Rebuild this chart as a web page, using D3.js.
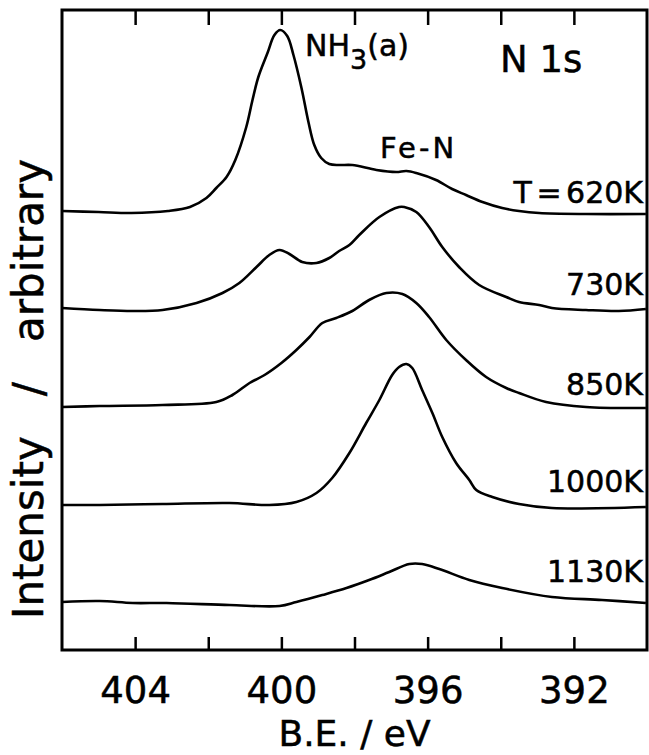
<!DOCTYPE html>
<html>
<head>
<meta charset="utf-8">
<script src="https://cdn.jsdelivr.net/npm/d3@7"></script>
<style>
  body { margin: 0; background: #fff; }
  text { font-family: "DejaVu Sans", sans-serif; fill: #000; stroke: #000; stroke-width: 0.5px; }
</style>
</head>
<body>
<svg id="svg1" width="649" height="755"></svg>
<script>
// binding energy (eV) and stacked intensity (arb.), one array per anneal temperature
const k620 = [[406.0,43.9],[405.0,43.8],[404.1,43.7],[403.1,43.9],[402.5,44.3],[402.05,45.2],[401.78,46.2],[401.5,47.3],[401.26,49.0],[400.96,52.3],[400.79,55.0],[400.63,57.3],[400.38,59.7],[400.19,61.5],[400.03,62.0],[399.84,61.4],[399.67,59.5],[399.45,56.2],[399.26,52.8],[399.1,50.5],[398.91,49.2],[398.69,48.6],[398.42,48.5],[398.06,48.5],[397.4,48.0],[396.86,47.8],[396.58,47.9],[396.31,47.7],[395.77,47.0],[395.33,46.1],[394.95,45.5],[394.5,44.8],[393.96,44.2],[393.5,43.9],[392.95,43.7],[391.67,43.6],[390.03,43.6]];
const k730 = [[406.0,34.2],[404.97,34.0],[404.07,33.9],[403.25,34.0],[402.32,34.7],[401.61,35.7],[401.15,36.7],[400.68,38.3],[400.33,39.5],[400.05,40.0],[399.78,39.6],[399.43,38.8],[399.04,38.7],[398.69,39.2],[398.42,39.9],[398.14,40.5],[397.87,41.5],[397.32,43.3],[396.78,44.3],[396.64,44.3],[396.31,43.8],[395.96,42.3],[395.6,40.3],[395.14,38.3],[394.59,36.5],[393.85,35.3],[393.5,34.8],[392.95,34.5],[392.6,34.2],[391.67,34.0],[390.77,33.9],[390.03,34.1]];
const k850 = [[406.0,24.3],[404.97,24.4],[403.25,24.5],[401.78,24.8],[401.34,25.5],[400.87,26.7],[400.46,27.5],[400.0,28.7],[399.59,30.0],[399.23,31.3],[398.88,32.7],[398.5,33.2],[398.06,33.9],[397.6,35.0],[397.13,35.7],[396.69,35.6],[396.31,34.7],[395.96,33.3],[395.49,31.0],[394.95,29.0],[394.4,27.3],[393.85,26.2],[393.5,25.7],[392.76,24.8],[391.67,24.3],[390.03,24.2]];
const k1000 = [[406.0,14.5],[404.97,14.5],[403.25,14.6],[401.42,14.7],[400.33,14.5],[399.59,14.8],[399.04,15.7],[398.61,17.2],[398.14,19.7],[397.68,22.7],[397.32,25.0],[396.97,27.5],[396.78,28.3],[396.58,28.6],[396.42,28.2],[396.15,26.0],[395.87,23.7],[395.6,21.3],[395.22,18.7],[394.86,17.0],[394.67,16.0],[394.23,15.3],[393.5,14.6],[392.6,14.2],[390.03,14.3]];
const k1130 = [[406.0,4.8],[404.97,4.9],[404.07,4.7],[403.14,4.7],[401.42,4.5],[400.05,4.4],[399.59,4.8],[398.88,5.5],[398.22,6.2],[397.6,7.0],[397.05,7.8],[396.5,8.6],[396.15,8.6],[395.68,8.1],[394.86,7.0],[393.96,6.2],[392.6,5.3],[391.23,5.0],[390.03,4.7]];

const spectra = [k620, k730, k850, k1000, k1130];
const tempLabels = ["T = 620K", "730K", "850K", "1000K", "1130K"];
const tickValues = [404, 402, 400, 398, 396, 394, 392];
const tickLabels = [404, 400, 396, 392];

const svg1 = d3.select("#svg1");
const width1 = +svg1.attr('width');
const height1 = +svg1.attr('height');

const render = function() {
  const margin = { top: 10, right: 2, bottom: 105, left: 62 };
  const innerWidth = width1 - margin.left - margin.right;
  const innerHeight = height1 - margin.top - margin.bottom;

  /* binding energy runs right to left */
  const xScale = d3.scaleLinear()
    .domain([406, 390])
    .range([0, innerWidth]);

  const yScale = d3.scaleLinear()
    .domain([0, 64])
    .range([innerHeight, 0]);

  const a = svg1.append('g')
    .attr('transform', `translate(${margin.left}, ${margin.top})`);

  // bottom axis, ticks pointing inward, labels every 4 eV
  const xAxis = d3.axisBottom(xScale)
    .tickValues(tickValues)
    .tickSize(-13)
    .tickPadding(27)
    .tickFormat(d => tickLabels.includes(d) ? d : '');

  const xAxisA = a.append('g').call(xAxis)
    .attr('transform', `translate(0, ${innerHeight})`);
  xAxisA.selectAll('text').style('font-size', '37px').attr('font-family', null);

  // top axis, ticks only
  const xAxisTop = d3.axisTop(xScale)
    .tickValues(tickValues)
    .tickSize(-15)
    .tickFormat('');
  const xAxisTopA = a.append('g').call(xAxisTop);

  [xAxisA, xAxisTopA].forEach(g => {
    g.select('.domain').remove();
    g.selectAll('line').attr('stroke', '#000').attr('stroke-width', 2.5);
  });

  /* frame */
  a.append('rect')
    .attr('width', innerWidth)
    .attr('height', innerHeight)
    .attr('fill', 'none')
    .attr('stroke', '#000')
    .attr('stroke-width', 3);

  const line = d3.line()
    .x(d => xScale(d[0]))
    .y(d => yScale(d[1]))
    .curve(d3.curveCatmullRom.alpha(0.5));

  a.selectAll('path.spectrum').data(spectra)
    .enter().append('path')
      .attr('class', 'spectrum')
      .attr('d', line)
      .attr('fill', 'none')
      .attr('stroke', '#000')
      .attr('stroke-width', 2.6)
      .attr('stroke-linejoin', 'round');

  // temperature labels sit just above the right end of each curve
  const labelGap = [11, 14, 13, 15, 21];
  a.selectAll('text.temp').data(spectra)
    .enter().append('text')
      .attr('class', 'temp')
      .attr('x', innerWidth - 4)
      .attr('y', (d, i) => yScale(d[d.length - 1][1]) - labelGap[i])
      .attr('text-anchor', 'end')
      .style('font-size', '30px')
      .style('word-spacing', '-5px')
      .text((d, i) => tempLabels[i]);

  /* peak annotations */
  const nh3 = a.append('text')
    .attr('x', 243)
    .attr('y', 46)
    .style('font-size', '30px');
  nh3.append('tspan').text('NH');
  nh3.append('tspan').attr('dy', 13).style('font-size', '27px').text('3');
  nh3.append('tspan').attr('dy', -13).text('(a)');

  a.append('text')
    .attr('x', 318)
    .attr('y', 148)
    .style('font-size', '29px')
    .style('letter-spacing', '3px')
    .text('Fe-N');

  a.append('text')
    .attr('x', 438)
    .attr('y', 62)
    .style('font-size', '37px')
    .text('N 1s');

  // axis titles
  a.append('text')
    .attr('x', innerWidth / 2)
    .attr('y', innerHeight + 96)
    .attr('text-anchor', 'middle')
    .style('font-size', '36px')
    .text('B.E. / eV');

  svg1.append('text')
    .attr('transform', 'translate(43, 389) rotate(-90)')
    .attr('text-anchor', 'middle')
    .style('font-size', '42px')
    .style('white-space', 'pre')
    .text('Intensity   /   arbitrary');
};

render();
</script>
</body>
</html>
